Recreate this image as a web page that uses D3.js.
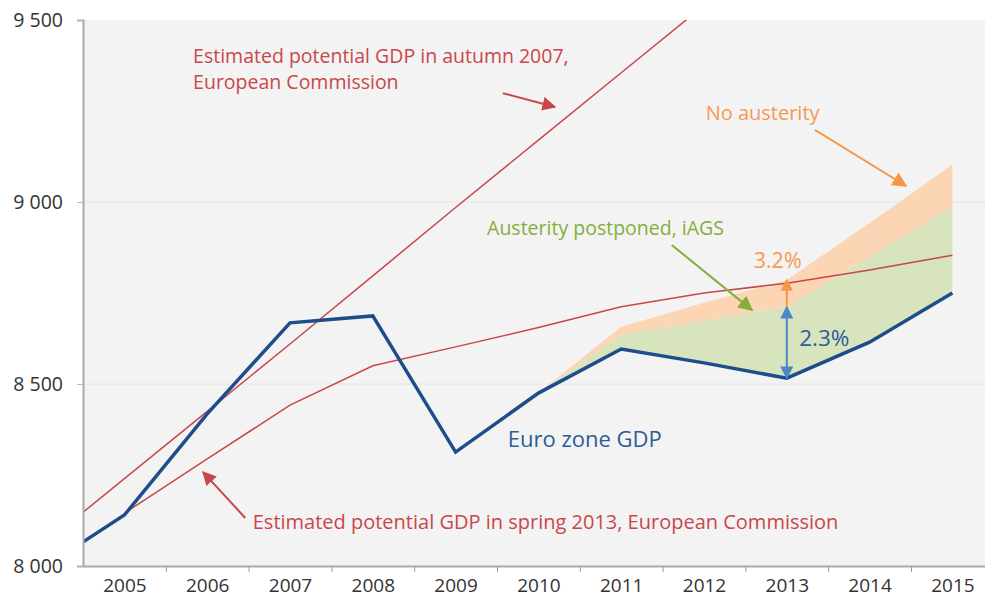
<!DOCTYPE html>
<html>
<head>
<meta charset="utf-8">
<script src="https://cdn.jsdelivr.net/npm/d3@7"></script>
<style>
  body { margin: 0; background: #fff; }
  text { font-family: "Open Sans", sans-serif; }
</style>
</head>
<body>
<svg id="chart"></svg>
<script>
// data (billions of euros)
var years = [2004, 2005, 2006, 2007, 2008, 2009, 2010, 2011, 2012, 2013, 2014, 2015];
var gdp = [7992, 8140, 8418, 8668, 8687, 8313, 8475, 8596, 8558, 8516, 8615, 8750];
var autumnYears = [2004, 2005, 2006, 2007, 2008, 2009, 2010, 2011, 2012];
var autumn2007 = [8055, 8240, 8425, 8610, 8797, 8985, 9170, 9355, 9540];
var springYears = [2005, 2006, 2007, 2008, 2009, 2010, 2011, 2012, 2013, 2014, 2015];
var spring2013 = [8145, 8294, 8442, 8550, 8602, 8655, 8712, 8750, 8777, 8813, 8854];
var scenYears = [2010, 2011, 2012, 2013, 2014, 2015];
var postponed = [8475, 8635, 8673, 8712, 8849, 8986];
var noAusterity = [8475, 8657, 8723, 8786, 8942, 9102];
var yTicks = [8000, 8500, 9000, 9500];
var xLabels = [2005, 2006, 2007, 2008, 2009, 2010, 2011, 2012, 2013, 2014, 2015];

var W = 985, H = 603;
var margin = { top: 20, right: 0, bottom: 37, left: 83 };

var svg = d3.select("#chart").attr("width", W).attr("height", H);

var x = d3.scaleLinear().domain([2004.5, 2015.5]).range([margin.left, margin.left + 11 * 82.8]);
var y = d3.scaleLinear().domain([8000, 9500]).range([H - margin.bottom, margin.top]);

var red = "#c9474a", blue = "#1d4d8a", blueText = "#2c5c98", orange = "#f79646",
    orangeText = "#f59a55", green = "#84ae3c", lblue = "#4a86c8";

// plot background
svg.append("rect")
  .attr("x", margin.left).attr("y", margin.top)
  .attr("width", W - margin.left).attr("height", H - margin.bottom - margin.top)
  .attr("fill", "#f3f3f3");

svg.append("clipPath").attr("id", "clip")
  .append("rect")
  .attr("x", margin.left).attr("y", margin.top)
  .attr("width", W - margin.left).attr("height", H - margin.bottom - margin.top);

// gridlines
svg.append("g").selectAll("line").data([8500, 9000]).join("line")
  .attr("x1", margin.left).attr("x2", W)
  .attr("y1", d => y(d)).attr("y2", d => y(d))
  .attr("stroke", "#e6e6e6").attr("stroke-width", 1);

// arrow markers
var defs = svg.append("defs");
function marker(id, color, size) {
  defs.append("marker").attr("id", id)
    .attr("viewBox", "0 0 10 10").attr("refX", 9).attr("refY", 5)
    .attr("markerWidth", size).attr("markerHeight", size)
    .attr("markerUnits", "userSpaceOnUse")
    .attr("orient", "auto-start-reverse")
    .append("path").attr("d", "M0,0L10,5L0,10z").attr("fill", color);
}
marker("arRed", red, 14);
marker("arOrange", orange, 15);
marker("arGreen", green, 15);
marker("arBlue", lblue, 13);
marker("arOrangeS", orange, 12);

var plot = svg.append("g").attr("clip-path", "url(#clip)");

// scenario areas
var scen = scenYears.map((yr, i) => ({ yr: yr, base: gdp[years.indexOf(yr)], g: postponed[i], o: noAusterity[i] }));

plot.append("path").datum(scen)
  .attr("fill", "#fcd5b4")
  .attr("d", d3.area().x(d => x(d.yr)).y0(d => y(d.g)).y1(d => y(d.o)));

plot.append("path").datum(scen)
  .attr("fill", "#d7e4bd")
  .attr("d", d3.area().x(d => x(d.yr)).y0(d => y(d.base)).y1(d => y(d.g)));

var line = d3.line().x(d => x(d[0])).y(d => y(d[1]));

plot.append("path").datum(d3.zip(autumnYears, autumn2007))
  .attr("fill", "none").attr("stroke", red).attr("stroke-width", 1.5)
  .attr("d", line);

plot.append("path").datum(d3.zip(springYears, spring2013))
  .attr("fill", "none").attr("stroke", red).attr("stroke-width", 1.5)
  .attr("d", line);

plot.append("path").datum(d3.zip(years, gdp))
  .attr("fill", "none").attr("stroke", blue).attr("stroke-width", 3.5)
  .attr("stroke-linejoin", "miter")
  .attr("d", line);

// axes
var fmt = d3.formatLocale({ decimal: ",", thousands: " ", grouping: [3], currency: ["", ""] }).format(",");

var yAxis = svg.append("g").attr("transform", "translate(" + margin.left + ",0)")
  .call(d3.axisLeft(y).tickValues(yTicks).tickFormat(fmt).tickSize(6).tickPadding(14));
yAxis.select(".domain").attr("stroke", "#aaa").attr("stroke-width", 2);
yAxis.selectAll(".tick line").attr("stroke", "#bbb");
yAxis.selectAll(".tick text").attr("font-size", 19.5).attr("fill", "#333")
  .attr("font-family", "Open Sans, sans-serif");

var xBase = H - margin.bottom;
var xTicks = svg.append("g").attr("transform", "translate(0," + xBase + ")")
  .call(d3.axisBottom(x).tickValues(d3.range(2005.5, 2015, 1)).tickFormat("").tickSize(6).tickSizeOuter(0));
xTicks.select(".domain").attr("stroke", "#aaa").attr("stroke-width", 2);
xTicks.selectAll(".tick line").attr("stroke", "#999");

var xLab = svg.append("g").attr("transform", "translate(0," + xBase + ")")
  .call(d3.axisBottom(x).tickValues(xLabels).tickFormat(d3.format("d")).tickSize(0).tickPadding(13));
xLab.select(".domain").remove();
xLab.selectAll(".tick text").attr("font-size", 19).attr("fill", "#333")
  .attr("font-family", "Open Sans, sans-serif");

// annotations
function label(text, yr, v, color, size) {
  return svg.append("text").attr("x", x(yr)).attr("y", y(v))
    .attr("fill", color).attr("font-size", size).text(text);
}
function arrow(yr1, v1, yr2, v2, color, mk, w) {
  svg.append("line")
    .attr("x1", x(yr1)).attr("y1", y(v1)).attr("x2", x(yr2)).attr("y2", y(v2))
    .attr("stroke", color).attr("stroke-width", w || 2)
    .attr("marker-end", "url(#" + mk + ")");
}

label("Estimated potential GDP in autumn 2007,", 2005.83, 9382, red, 19.5);
label("European Commission", 2005.83, 9310, red, 19.5);
arrow(2009.57, 9299, 2010.2, 9261, red, "arRed");

label("Estimated potential GDP in spring 2013, European Commission", 2006.55, 8102, red, 20);
arrow(2006.46, 8132, 2005.95, 8258, red, "arRed");

label("Euro zone GDP", 2009.63, 8327, blueText, 22);

label("No austerity", 2012.02, 9225, orangeText, 20);
arrow(2013.34, 9198, 2014.44, 9044, orange, "arOrange");

label("Austerity postponed, iAGS", 2009.38, 8910, green, 19.5);
arrow(2011.61, 8882, 2012.58, 8703, green, "arGreen");

label("3.2%", 2012.6, 8819, orangeText, 21.5);
label("2.3%", 2013.15, 8604, blueText, 22.5);

// gap arrows in 2013
var i13 = scenYears.indexOf(2013);
var g13 = gdp[years.indexOf(2013)];
svg.append("line")
  .attr("x1", x(2013)).attr("x2", x(2013))
  .attr("y1", y(g13)).attr("y2", y(postponed[i13]))
  .attr("stroke", lblue).attr("stroke-width", 2)
  .attr("marker-start", "url(#arBlue)").attr("marker-end", "url(#arBlue)");
svg.append("line")
  .attr("x1", x(2013)).attr("x2", x(2013))
  .attr("y1", y(postponed[i13])).attr("y2", y(noAusterity[i13]))
  .attr("stroke", orange).attr("stroke-width", 2)
  .attr("marker-end", "url(#arOrangeS)");
</script>
</body>
</html>
